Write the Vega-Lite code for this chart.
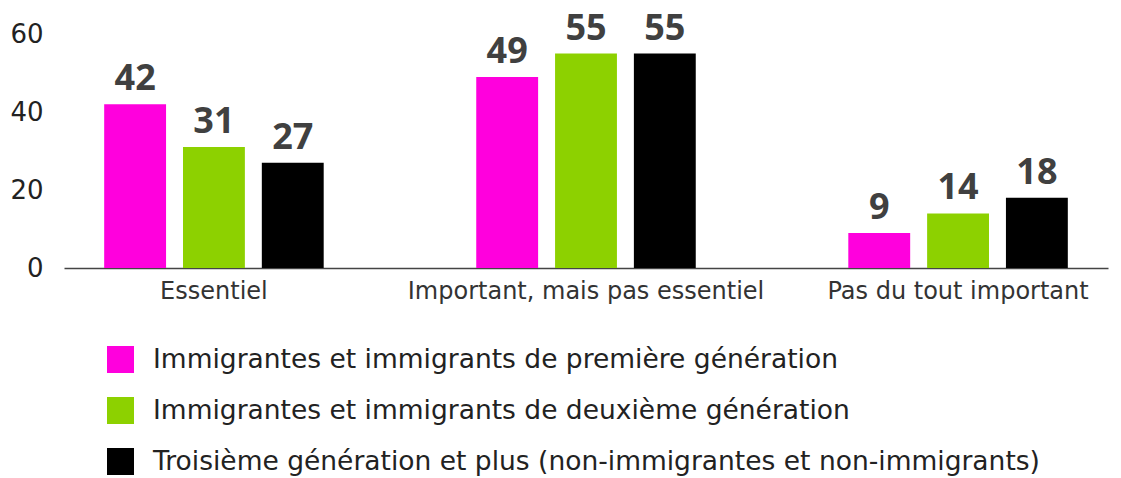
{
  "$schema": "https://vega.github.io/schema/vega-lite/v6.json",
  "width": 1044,
  "height": 234,
  "autosize": {"type": "none"},
  "padding": {"left": 64, "top": 34, "right": 13, "bottom": 210},
  "background": "white",
  "config": {
    "view": {"stroke": null},
    "font": "DejaVu Sans"
  },
  "data": {
    "values": [
      {"categorie": "Essentiel", "groupe": "Immigrantes et immigrants de première génération", "valeur": 42},
      {"categorie": "Essentiel", "groupe": "Immigrantes et immigrants de deuxième génération", "valeur": 31},
      {"categorie": "Essentiel", "groupe": "Troisième génération et plus (non-immigrantes et non-immigrants)", "valeur": 27},
      {"categorie": "Important, mais pas essentiel", "groupe": "Immigrantes et immigrants de première génération", "valeur": 49},
      {"categorie": "Important, mais pas essentiel", "groupe": "Immigrantes et immigrants de deuxième génération", "valeur": 55},
      {"categorie": "Important, mais pas essentiel", "groupe": "Troisième génération et plus (non-immigrantes et non-immigrants)", "valeur": 55},
      {"categorie": "Pas du tout important", "groupe": "Immigrantes et immigrants de première génération", "valeur": 9},
      {"categorie": "Pas du tout important", "groupe": "Immigrantes et immigrants de deuxième génération", "valeur": 14},
      {"categorie": "Pas du tout important", "groupe": "Troisième génération et plus (non-immigrantes et non-immigrants)", "valeur": 18}
    ]
  },
  "encoding": {
    "x": {
      "field": "categorie",
      "type": "nominal",
      "sort": ["Essentiel", "Important, mais pas essentiel", "Pas du tout important"],
      "scale": {"paddingInner": 0.41, "paddingOuter": 0.108},
      "axis": {
        "title": null,
        "labelAngle": 0,
        "labelFontSize": 24,
        "labelColor": "#333333",
        "labelPadding": 11,
        "labelDx": -7,
        "labelLimit": 500,
        "ticks": false,
        "domainColor": "#444444",
        "domainWidth": 1.5
      }
    },
    "xOffset": {
      "field": "groupe",
      "type": "nominal",
      "sort": [
        "Immigrantes et immigrants de première génération",
        "Immigrantes et immigrants de deuxième génération",
        "Troisième génération et plus (non-immigrantes et non-immigrants)"
      ],
      "scale": {"paddingInner": 0.215, "paddingOuter": 0}
    },
    "y": {
      "field": "valeur",
      "type": "quantitative",
      "scale": {"domain": [0, 60], "nice": false},
      "axis": {
        "title": null,
        "values": [0, 20, 40, 60],
        "domain": false,
        "ticks": false,
        "grid": false,
        "labelFontSize": 26,
        "labelColor": "#222222",
        "labelPadding": 21
      }
    }
  },
  "layer": [
    {
      "mark": {"type": "bar"},
      "encoding": {
        "color": {
          "field": "groupe",
          "type": "nominal",
          "scale": {
            "domain": [
              "Immigrantes et immigrants de première génération",
              "Immigrantes et immigrants de deuxième génération",
              "Troisième génération et plus (non-immigrantes et non-immigrants)"
            ],
            "range": ["#FF00DD", "#8DD100", "#000000"]
          },
          "legend": {
            "title": null,
            "orient": "none",
            "legendX": 43,
            "legendY": 312,
            "direction": "vertical",
            "symbolType": "square",
            "symbolSize": 729,
            "symbolStrokeWidth": 0,
            "symbolOpacity": 1,
            "labelFontSize": 26.5,
            "labelColor": "#222222",
            "labelOffset": 19,
            "labelLimit": 1000,
            "rowPadding": 24
          }
        }
      }
    },
    {
      "mark": {"type": "text", "baseline": "alphabetic", "dy": -14, "fontSize": 36, "fontWeight": "bold", "font": "Open Sans", "color": "#404040"},
      "encoding": {
        "text": {"field": "valeur", "type": "quantitative"}
      }
    }
  ]
}
